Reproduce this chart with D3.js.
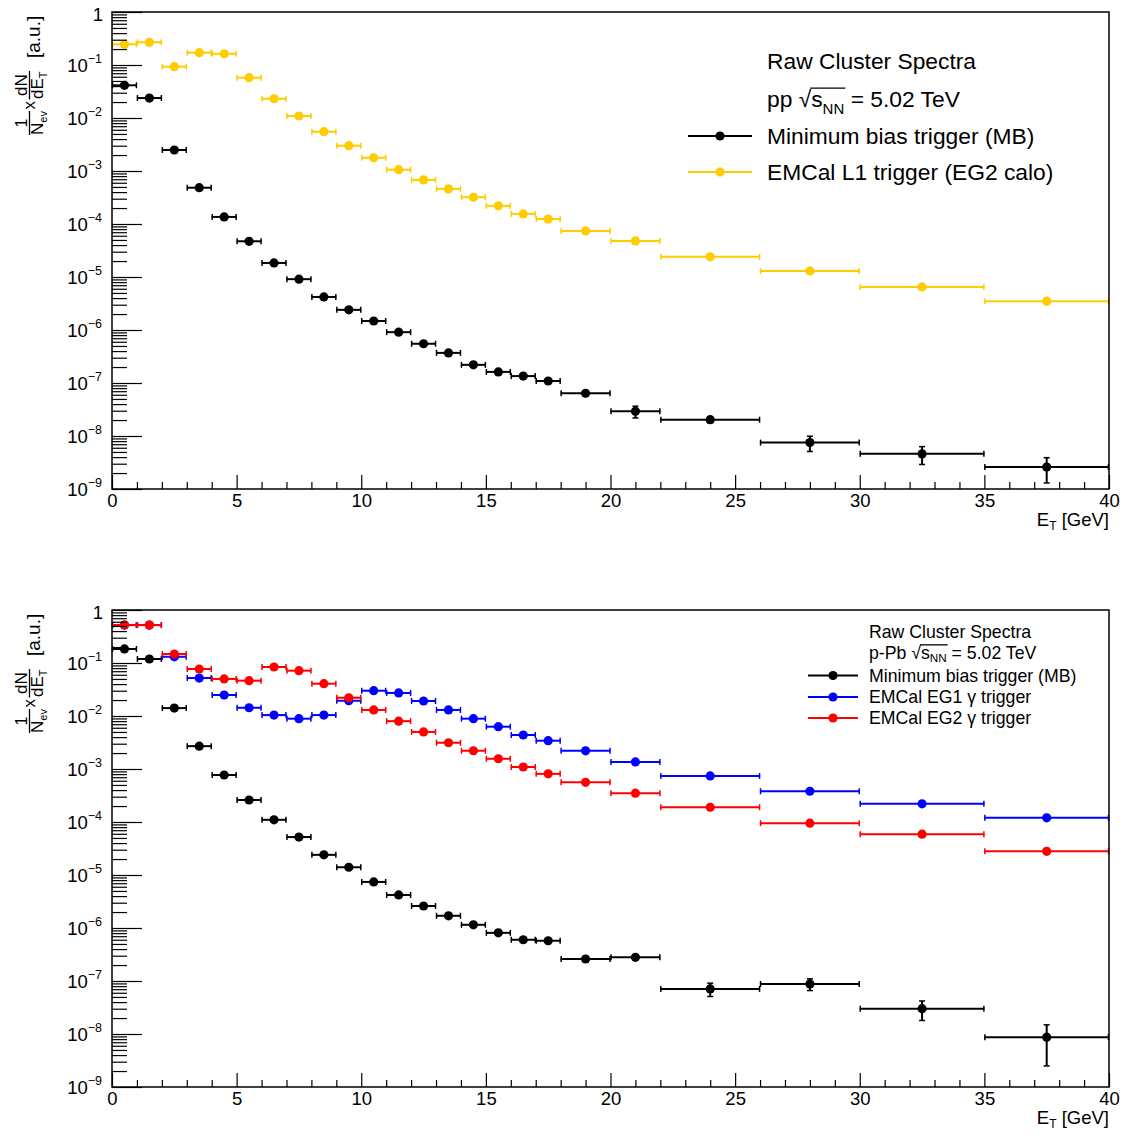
<!DOCTYPE html>
<html><head><meta charset="utf-8">
<script src="https://cdn.jsdelivr.net/npm/d3@7"></script>
<style>body{margin:0;background:#fff}</style>
</head><body>
<script>
// ---------- data ----------
const binEdges = [0,1,2,3,4,5,6,7,8,9,10,11,12,13,14,15,16,17,18,20,22,26,30,35,40];
const xTicks = [0,5,10,15,20,25,30,35,40];
const yExponents = [0,-1,-2,-3,-4,-5,-6,-7,-8,-9];

const ppMB = [0.0414,0.0238,0.00249,4.84e-4,1.36e-4,4.72e-5,1.84e-5,9.1e-6,4.2e-6,2.4e-6,1.48e-6,9.1e-7,5.5e-7,3.7e-7,2.2e-7,1.62e-7,1.35e-7,1.09e-7,6.4e-8,2.92e-8,2.03e-8,7.5e-9,4.6e-9,2.6e-9];
const ppMBErr = [0,0,0,0,0,0,0,0,0,0,0,0,0,0,0.08e-7,0.06e-7,0.06e-7,0.05e-7,0.3e-8,0.73e-8,0.25e-8,2.4e-9,1.7e-9,1.3e-9];
const ppEG2 = [0.246,0.268,0.093,0.171,0.163,0.0576,0.0231,0.0109,0.00552,0.0030,0.00178,0.00106,6.8e-4,4.6e-4,3.2e-4,2.2e-4,1.55e-4,1.24e-4,7.4e-5,4.8e-5,2.4e-5,1.3e-5,6.5e-6,3.5e-6];

const pPbMB = [0.184,0.119,0.0141,0.0027,7.7e-4,2.6e-4,1.1e-4,5.2e-5,2.4e-5,1.4e-5,7.4e-6,4.2e-6,2.6e-6,1.7e-6,1.15e-6,8.1e-7,6.0e-7,5.75e-7,2.6e-7,2.8e-7,7.1e-8,8.8e-8,3.0e-8,8.7e-9];
const pPbMBErr = [0,0,0,0,0,0,0,0,0,0,0,0,0.1e-6,0.08e-6,0.06e-6,0.5e-7,0.5e-7,0.5e-7,0.3e-7,0.3e-7,2e-8,2.2e-8,1.2e-8,6.2e-9];
const pPbEG1 = [0.52,0.52,0.131,0.052,0.0249,0.0143,0.0104,0.0089,0.0104,0.0194,0.030,0.0272,0.0192,0.013,0.0089,0.00628,0.00438,0.00342,0.0022,0.00136,7.4e-4,3.8e-4,2.2e-4,1.2e-4];
const pPbEG2 = [0.52,0.52,0.148,0.077,0.050,0.0464,0.084,0.0716,0.0407,0.0221,0.0130,0.0080,0.0050,0.00313,0.00221,0.00156,0.00109,8.1e-4,5.6e-4,3.5e-4,1.9e-4,9.5e-5,5.9e-5,2.8e-5];

const ppLabels = ["Minimum bias trigger (MB)", "EMCal L1 trigger (EG2 calo)"];
const pPbLabels = ["Minimum bias trigger (MB)", "EMCal EG1 \u03B3 trigger", "EMCal EG2 \u03B3 trigger"];

// ---------- drawing ----------
const W = 1123, H = 1135;
const FONT = "'Liberation Sans', Arial, Helvetica, sans-serif";
const svg = d3.select("body").append("svg").attr("width", W).attr("height", H)
  .style("font-family", FONT);
svg.append("rect").attr("width", W).attr("height", H).attr("fill", "#fff");

const X0 = 112, X1 = 1109;

function drawSeries(g, x, y, vals, errs, color) {
  const bins = vals.map((v, i) => ({v, e: errs ? errs[i] : 0, lo: binEdges[i], hi: binEdges[i+1]}));
  const s = g.append("g").attr("stroke", color).attr("stroke-width", 2).attr("fill", color);
  s.selectAll("line.h").data(bins).join("line").attr("class","h")
    .attr("x1", d => x(d.lo)).attr("x2", d => x(d.hi)).attr("y1", d => y(d.v)).attr("y2", d => y(d.v));
  s.selectAll("line.cl").data(bins).join("line").attr("class","cl")
    .attr("x1", d => x(d.lo)+0.5).attr("x2", d => x(d.lo)+0.5).attr("y1", d => y(d.v)-3).attr("y2", d => y(d.v)+3).attr("stroke-width",1.5);
  s.selectAll("line.cr").data(bins).join("line").attr("class","cr")
    .attr("x1", d => x(d.hi)-0.5).attr("x2", d => x(d.hi)-0.5).attr("y1", d => y(d.v)-3).attr("y2", d => y(d.v)+3).attr("stroke-width",1.5);
  const eb = bins.filter(d => d.e > 0);
  s.selectAll("line.v").data(eb).join("line").attr("class","v")
    .attr("x1", d => x((d.lo+d.hi)/2)).attr("x2", d => x((d.lo+d.hi)/2))
    .attr("y1", d => y(Math.max(d.v - d.e, 1e-9))).attr("y2", d => y(d.v + d.e));
  s.selectAll("line.ct").data(eb).join("line").attr("class","ct")
    .attr("x1", d => x((d.lo+d.hi)/2)-3).attr("x2", d => x((d.lo+d.hi)/2)+3)
    .attr("y1", d => y(d.v + d.e)).attr("y2", d => y(d.v + d.e)).attr("stroke-width",1.5);
  s.selectAll("line.cb").data(eb.filter(d => d.v - d.e > 1e-9)).join("line").attr("class","cb")
    .attr("x1", d => x((d.lo+d.hi)/2)-3).attr("x2", d => x((d.lo+d.hi)/2)+3)
    .attr("y1", d => y(d.v - d.e)).attr("y2", d => y(d.v - d.e)).attr("stroke-width",1.5);
  s.selectAll("circle").data(bins).join("circle")
    .attr("cx", d => x((d.lo+d.hi)/2)).attr("cy", d => y(d.v)).attr("r", 4.6).attr("stroke", "none");
}

function yTitle(g, ox, oy) {
  // rotated: local +x goes up the page, local -y goes left
  const t = g.append("g").attr("transform", `translate(${ox},${oy}) rotate(-90)`).attr("fill","#000");
  // fraction 1/N_ev
  t.append("text").attr("x", 12).attr("y", -13).attr("font-size", 16).attr("text-anchor","middle").text("1");
  t.append("line").attr("x1", 0).attr("x2", 24).attr("y1", -10.5).attr("y2", -10.5).attr("stroke","#000").attr("stroke-width",1.3);
  const d1 = t.append("text").attr("x", 0).attr("y", 3).attr("font-size", 17);
  d1.append("tspan").text("N");
  d1.append("tspan").attr("font-size", 11).attr("dy", 4).text("ev");
  // x
  t.append("text").attr("x", 25.5).attr("y", -5).attr("font-size", 17).text("x");
  // fraction dN/dE_T
  t.append("text").attr("x", 50).attr("y", -13).attr("font-size", 17).attr("text-anchor","middle").text("dN");
  t.append("line").attr("x1", 35.5).attr("x2", 64).attr("y1", -10.5).attr("y2", -10.5).attr("stroke","#000").attr("stroke-width",1.3);
  const d2 = t.append("text").attr("x", 36).attr("y", 3).attr("font-size", 17);
  d2.append("tspan").text("dE");
  d2.append("tspan").attr("font-size", 11).attr("dy", 4).text("T");
  // [a.u.]
  t.append("text").attr("x", 77).attr("y", 0).attr("font-size", 19).text("[a.u.]");
}

function panel(top, bottom, seriesList) {
  const x = d3.scaleLinear().domain([0, 40]).range([X0, X1]);
  const y = d3.scaleLog().domain([1e-9, 1]).range([bottom, top]);
  const g = svg.append("g");

  // data
  seriesList.forEach(s => drawSeries(g, x, y, s.vals, s.errs, s.color));

  // y minor ticks
  const minors = [];
  yExponents.slice(1).forEach(e => { for (let m = 2; m <= 9; m++) minors.push(m * Math.pow(10, e)); });
  const ay = g.append("g").attr("transform", `translate(${X0},0)`);
  ay.call(d3.axisLeft(y).tickValues(minors).tickSize(-15).tickSizeOuter(0).tickFormat(""));
  ay.select(".domain").remove();
  const ay2 = g.append("g").attr("transform", `translate(${X0},0)`);
  ay2.call(d3.axisLeft(y).tickValues(yExponents.map(e => Math.pow(10, e))).tickSize(-30).tickSizeOuter(0).tickFormat(""));
  ay2.select(".domain").remove();
  g.selectAll(".tick line").attr("stroke-width", 1.2);

  // y labels
  yExponents.forEach(e => {
    const t = g.append("text").attr("x", 102).attr("y", y(Math.pow(10, e)) + 7)
      .attr("text-anchor", "end").attr("font-size", 18.5).attr("fill", "#000");
    if (e === 0) { t.attr("x", 103).attr("y", y(1) + 9).text("1"); }
    else {
      t.append("tspan").text("10");
      t.append("tspan").attr("font-size", 12.5).attr("dy", -9).text("\u2212" + (-e));
    }
  });

  // x ticks
  const xMinor = d3.range(0, 41).filter(v => v % 5 !== 0);
  const ax = g.append("g").attr("transform", `translate(0,${bottom})`);
  ax.call(d3.axisBottom(x).tickValues(xMinor).tickSize(-7).tickSizeOuter(0).tickFormat(""));
  ax.select(".domain").remove();
  const ax2 = g.append("g").attr("transform", `translate(0,${bottom})`);
  ax2.call(d3.axisBottom(x).tickValues(xTicks).tickSize(-14).tickSizeOuter(0).tickPadding(5).tickFormat(d3.format("d")));
  ax2.select(".domain").remove();
  ax2.selectAll("text").attr("font-size", 18.5).attr("font-family", FONT).attr("fill", "#000");
  ax2.attr("font-family", FONT);
  g.selectAll(".tick line").attr("stroke-width", 1.2);

  // x title
  const xt = g.append("text").attr("x", X1).attr("y", bottom + 37).attr("text-anchor", "end")
    .attr("font-size", 18.5).attr("fill", "#000");
  xt.append("tspan").text("E");
  xt.append("tspan").attr("font-size", 12).attr("dy", 4).text("T");
  xt.append("tspan").attr("dy", -4).text(" [GeV]");

  // frame
  g.append("rect").attr("x", X0).attr("y", top).attr("width", X1 - X0).attr("height", bottom - top)
    .attr("fill", "none").attr("stroke", "#000").attr("stroke-width", 1.5);

  yTitle(g, 40, top + 123);
  return {g, x, y};
}

function sqrtLine(g, textSel, startIdx, endIdx) {
  const n = textSel.node();
  const b = n.getExtentOfChar(endIdx);
  const r = n.getExtentOfChar(startIdx - 1);
  g.append("line").attr("x1", r.x + r.width - 1).attr("x2", b.x + b.width + 1)
    .attr("y1", r.y + 2).attr("y2", r.y + 2).attr("stroke", "#000").attr("stroke-width", 1.3);
}

function legend(g, items, opts) {
  const {tx, lx1, lx2, rows, fs, title1, prefix, subShift} = opts;
  g.append("text").attr("x", tx).attr("y", rows[0] + fs*0.36).attr("font-size", fs).text(title1);
  const t2 = g.append("text").attr("x", tx).attr("y", rows[1] + fs*0.36).attr("font-size", fs);
  t2.append("tspan").text(prefix + " \u221A");
  t2.append("tspan").text("s");
  t2.append("tspan").attr("font-size", fs*0.66).attr("dy", fs*subShift).text("NN");
  t2.append("tspan").attr("dy", -fs*subShift).text(" = 5.02 TeV");
  const base = prefix.length + 2; // index of 's'
  sqrtLine(g, t2, base, base + 2);
  items.forEach((it, i) => {
    const yy = rows[i + 2];
    g.append("line").attr("x1", lx1).attr("x2", lx2).attr("y1", yy).attr("y2", yy)
      .attr("stroke", it.color).attr("stroke-width", 2);
    g.append("circle").attr("cx", (lx1 + lx2) / 2).attr("cy", yy).attr("r", 4.6).attr("fill", it.color);
    g.append("text").attr("x", tx).attr("y", yy + fs*0.36).attr("font-size", fs).text(it.label);
  });
}

// top panel
const P1 = panel(12, 489, [
  {vals: ppMB, errs: ppMBErr, color: "#000"},
  {vals: ppEG2, errs: null, color: "#ffcc00"}
]);
legend(P1.g, [{label: ppLabels[0], color: "#000"}, {label: ppLabels[1], color: "#ffcc00"}],
  {tx: 767, lx1: 688, lx2: 752, rows: [61, 99, 136, 172], fs: 22.8, title1: "Raw Cluster Spectra", prefix: "pp", subShift: 0.3});

// bottom panel
const P2 = panel(610, 1087, [
  {vals: pPbMB, errs: pPbMBErr, color: "#000"},
  {vals: pPbEG1, errs: null, color: "#0000ff"},
  {vals: pPbEG2, errs: null, color: "#ff0000"}
]);
legend(P2.g, [{label: pPbLabels[0], color: "#000"}, {label: pPbLabels[1], color: "#0000ff"}, {label: pPbLabels[2], color: "#ff0000"}],
  {tx: 869, lx1: 808, lx2: 858, rows: [632, 652.5, 675.5, 697, 718], fs: 17.7, title1: "Raw Cluster Spectra", prefix: "p-Pb", subShift: 0.18});
</script>
</body></html>
